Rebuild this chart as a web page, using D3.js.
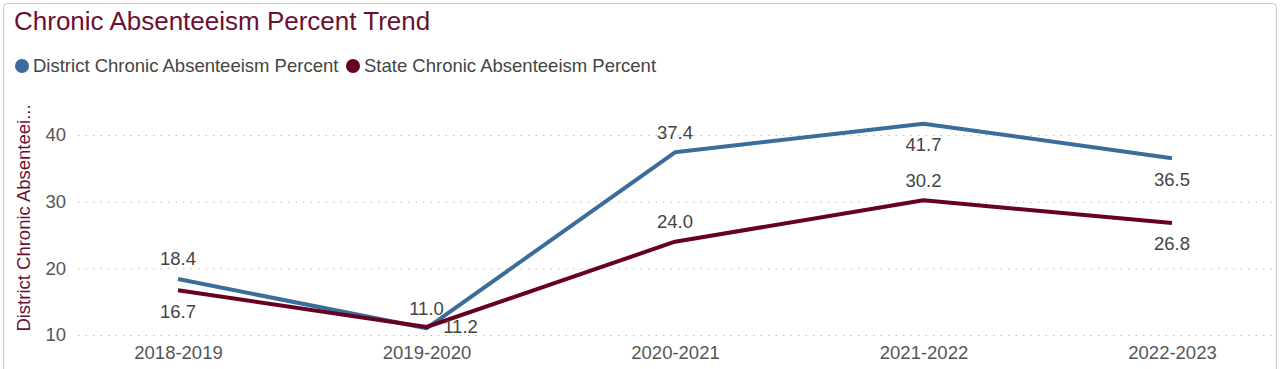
<!DOCTYPE html>
<html>
<head>
<meta charset="utf-8">
<script src="https://cdn.jsdelivr.net/npm/d3@7"></script>
<style>
  body { margin: 0; background: #fff; }
  svg text { font-family: "Liberation Sans", Arial, sans-serif; }
  .grid line { stroke: #bdbdbd; stroke-dasharray: 1.5,6; }
  .grid .domain { display: none; }
  .axis text { fill: #555; font-size: 18.5px; }
  .axis .domain, .axis line { display: none; }
</style>
</head>
<body>
<svg class="chart"></svg>
<script>
const years = ["2018-2019", "2019-2020", "2020-2021", "2021-2022", "2022-2023"];
const district = [18.4, 11.0, 37.4, 41.7, 36.5];
const state = [16.7, 11.2, 24.0, 30.2, 26.8];
const yTicks = [10, 20, 30, 40];
// where each data label sits relative to its point
const districtSide = ["above", "above", "above", "below", "below"];
const stateSide = ["below", "right", "above", "above", "below"];

const W = 1282, H = 369;
const svg = d3.select('.chart').attr('width', W).attr('height', H);

// frame
svg.append('rect')
  .attr('x', 3.5).attr('y', 3.5)
  .attr('width', 1273).attr('height', 380)
  .attr('rx', 4)
  .attr('fill', 'none')
  .attr('stroke', '#c8c8c8');

svg.append('text')
  .attr('x', 14).attr('y', 30)
  .attr('fill', '#6b1030')
  .style('font-size', '26px')
  .text('Chronic Absenteeism Percent Trend');

const series = [
  {name: 'District Chronic Absenteeism Percent', values: district, color: '#3a6d9c', side: districtSide},
  {name: 'State Chronic Absenteeism Percent', values: state, color: '#680020', side: stateSide},
];

// legend
const legendX = [22, 353];
series.forEach(function(s, i) {
  const g = svg.append('g').attr('transform', `translate(${legendX[i]}, 66)`);
  g.append('circle').attr('r', 7).attr('fill', s.color);
  g.append('text')
    .attr('x', 11).attr('dy', '0.35em')
    .attr('fill', '#444')
    .style('font-size', '18.5px')
    .text(s.name);
});

const x = d3.scalePoint()
  .domain(years)
  .range([178, 1172]);

const y = d3.scaleLinear()
  .domain([10, 40])
  .range([335, 135]);

svg.append('g')
  .attr('class', 'grid')
  .attr('transform', 'translate(78, 0)')
  .call(d3.axisLeft(y).tickValues(yTicks).tickSize(-1196).tickFormat(''));

svg.append('g')
  .attr('class', 'axis')
  .attr('transform', 'translate(66, 0)')
  .call(d3.axisLeft(y).tickValues(yTicks).tickSize(0).tickPadding(0));

svg.append('g')
  .attr('class', 'axis')
  .attr('transform', 'translate(0, 341)')
  .call(d3.axisBottom(x).tickSize(0).tickPadding(0))
  .selectAll('text').attr('dy', '0.95em');

svg.append('text')
  .attr('transform', 'translate(24, 218) rotate(-90)')
  .attr('text-anchor', 'middle')
  .attr('dy', '0.35em')
  .attr('fill', '#6b1030')
  .style('font-size', '18.5px')
  .text('District Chronic Absenteei...');

const line = d3.line()
  .x(function(d, i) { return x(years[i]); })
  .y(function(d) { return y(d); });

series.forEach(function(s) {
  svg.append('path')
    .datum(s.values)
    .attr('fill', 'none')
    .attr('stroke', s.color)
    .attr('stroke-width', 4)
    .attr('stroke-linejoin', 'round')
    .attr('d', line);
});

series.forEach(function(s) {
  svg.selectAll(null)
    .data(s.values)
    .enter()
    .append('text')
    .attr('x', function(d, i) { return x(years[i]) + (s.side[i] === 'right' ? 34 : 0); })
    .attr('y', function(d, i) {
      if (s.side[i] === 'above') return y(d) - 20;
      if (s.side[i] === 'below') return y(d) + 21;
      return y(d);
    })
    .attr('dy', '0.35em')
    .attr('text-anchor', 'middle')
    .attr('fill', '#444')
    .style('font-size', '18.5px')
    .text(function(d) { return d.toFixed(1); });
});
</script>
</body>
</html>
